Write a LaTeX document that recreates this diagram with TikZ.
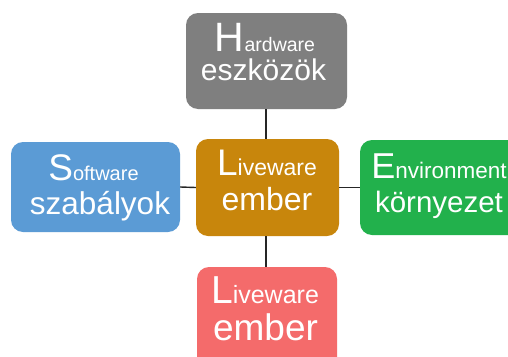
\documentclass[tikz,border=0pt]{standalone}
\usepackage{fontspec}
\setmainfont{Liberation Sans}
\definecolor{hwgrey}{HTML}{7F7F7F}
\definecolor{swblue}{HTML}{5B9BD5}
\definecolor{lwgold}{HTML}{C8860C}
\definecolor{envgreen}{HTML}{22B14C}
\definecolor{lwred}{HTML}{F46B6B}
\newcommand{\fsz}[1]{\fontsize{#1}{#1}\selectfont}
\begin{document}
\begin{tikzpicture}[x=1pt,y=-1pt,
  box/.style={rectangle, rounded corners=12pt, draw=none, inner sep=0pt},
  lbl/.style={anchor=base, text=white, inner sep=0pt},
  link/.style={draw=black!85, line width=1.4pt}]
\useasboundingbox (0,0) rectangle (508,356);
\clip (0,0) rectangle (508,356);
\fill[white] (0,0) rectangle (508,356);

% boxes
\node[box, fill=hwgrey,   minimum width=161pt, minimum height=96pt]  (hw)  at (266.5,61)   {};
\node[box, fill=swblue,   minimum width=169pt, minimum height=90pt]  (sw)  at (95.5,187)   {};
\node[box, fill=lwgold,   minimum width=143pt, minimum height=97pt]  (lw)  at (267.5,187.5) {};
\node[box, fill=envgreen, minimum width=165pt, minimum height=95pt]  (env) at (442.5,187.5) {};
\node[box, fill=lwred,    minimum width=140pt, minimum height=103pt] (lw2) at (267,318.5)  {};

% connectors
\draw[link] (hw.south -| 266,0) -- (lw.north -| 266,0);
\draw[link] (lw.south -| 266,0) -- (lw2.north -| 266,0);
\draw[link] (sw.east) -- (lw.west);
\draw[link] (lw.east) -- (env.west);

% labels
\node[lbl] (hw-a) at (265,51) {\fsz{41}H\fsz{19.5}ardware};
\node[lbl] (hw-b) at (263.5,80) {\fsz{30}eszközök};

\node[lbl] (sw-a) at (93.5,180) {\fsz{37}S\fsz{20}oftware};
\node[lbl] (sw-b) at (100,214) {\fsz{31.5}szabályok};

\node[lbl] (lw-a) at (267,175) {\fsz{37}L\fsz{23}iveware};
\node[lbl] (lw-b) at (267,210) {\fsz{32}ember};

\node[lbl] (env-a) at (439,178) {\fsz{36}E\fsz{22.5}nvironment};
\node[lbl] (env-b) at (439,212) {\fsz{29.5}környezet};

\node[lbl] (lw2-a) at (265,303) {\fsz{39}L\fsz{25}iveware};
\node[lbl] (lw2-b) at (265.5,340) {\fsz{37}ember};
\end{tikzpicture}
\end{document}
